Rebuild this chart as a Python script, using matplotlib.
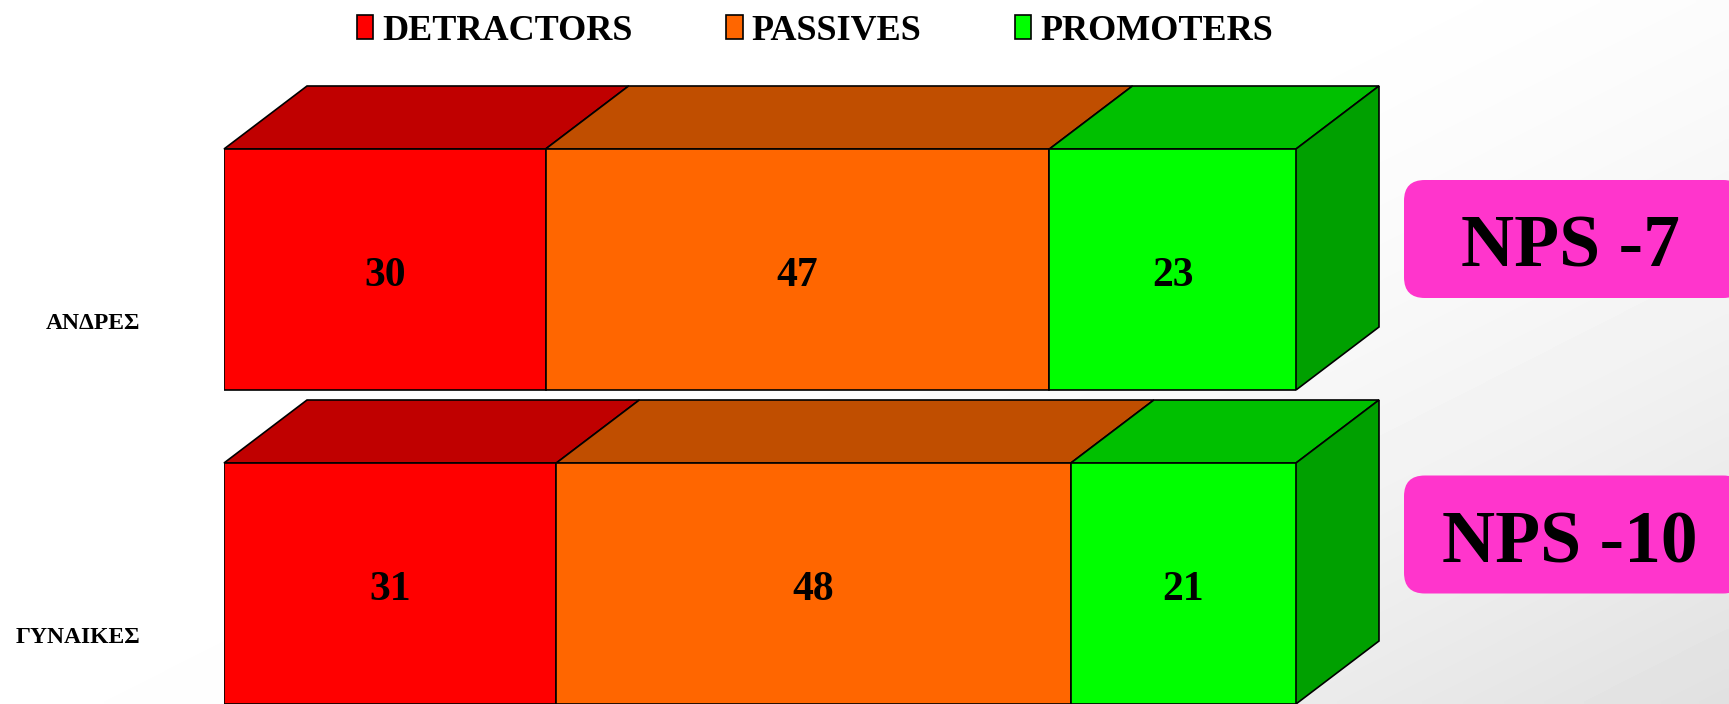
import matplotlib.pyplot as plt
import numpy as np
from matplotlib.patches import Polygon, Patch, FancyBboxPatch

# data
categories = ['ΑΝΔΡΕΣ', 'ΓΥΝΑΙΚΕΣ']
series = ['DETRACTORS', 'PASSIVES', 'PROMOTERS']
detractors = [30, 31]
passives = [47, 48]
promoters = [23, 21]

values = np.array([detractors, passives, promoters])
nps = np.array(promoters) - np.array(detractors)

front = ['#FF0000', '#FF6600', '#00FF00']
top = ['#C00000', '#C04E00', '#00C000']
side = '#00A000'

W, H = 1729, 704
fig = plt.figure(figsize=(W / 100, H / 100), dpi=100)
plt.rcParams['font.family'] = ['Liberation Serif', 'DejaVu Serif']

# soft grey gradient background
bg = fig.add_axes([0, 0, 1, 1], zorder=-5)
gx, gy = np.meshgrid(np.linspace(0, 1, 300), np.linspace(0, 1, 150))
g = np.clip((gx * 0.75 + gy * 0.6 - 0.55) / 0.8, 0, 1) ** 1.6
bg.imshow(1 - 0.12 * g, cmap='gray', vmin=0, vmax=1, aspect='auto',
          extent=[0, 1, 0, 1], interpolation='bilinear')
bg.axis('off')

# main axes: x in percent, y per category (inverted)
px_per_unit = 1072 / 100
row_px = 314
ax = fig.add_axes([224 / W, 0, 1072 / W, 1])
ax.set_xlim(0, 100)
ax.set_ylim((704 - 269.5) / row_px, -269.5 / row_px)
ax.axis('off')

bar_h = 241 / row_px
ddx = 83 / px_per_unit
ddy = 63 / row_px
ypos = np.arange(len(categories))

left = np.zeros(len(categories))
for s in range(len(series)):
    ax.barh(ypos, values[s], left=left, height=bar_h, color=front[s],
            edgecolor='black', linewidth=1.2, zorder=3)
    for i, y in enumerate(ypos):
        x0, x1 = left[i], left[i] + values[s][i]
        yt = y - bar_h / 2
        ax.add_patch(Polygon([(x0, yt), (x1, yt), (x1 + ddx, yt - ddy),
                              (x0 + ddx, yt - ddy)], closed=True,
                             facecolor=top[s], edgecolor='black',
                             linewidth=1.2, zorder=2, clip_on=False))
        ax.text((x0 + x1) / 2, y + 6 / row_px, str(values[s][i]), ha='center',
                va='center', fontsize=30, fontweight='bold', zorder=5)
    left += values[s]

for i, y in enumerate(ypos):
    yt, yb = y - bar_h / 2, y + bar_h / 2
    ax.add_patch(Polygon([(left[i], yt), (left[i] + ddx, yt - ddy),
                          (left[i] + ddx, yb - ddy), (left[i], yb)],
                         closed=True, facecolor=side, edgecolor='black',
                         linewidth=1.2, zorder=2, clip_on=False))
    ax.text(-84 / px_per_unit, y + 54 / row_px, categories[i], ha='right',
            va='center', fontsize=17, fontweight='bold')

# NPS boxes
box_y = [239, 534.5]
for i in range(len(categories)):
    cy = 1 - box_y[i] / H
    bh = 118 / H
    fig.patches.append(FancyBboxPatch((1404 / W, cy - bh / 2), 340 / W, bh,
                                      boxstyle='round,pad=0,rounding_size=0.012',
                                      mutation_aspect=W / H,
                                      transform=fig.transFigure,
                                      facecolor='#FF35CC', edgecolor='none'))
    fig.text(1570 / W, cy - 10 / H, f'NPS {nps[i]}', ha='center', va='center',
             fontsize=53, fontweight='bold')

handles = [Patch(facecolor=c, edgecolor='black', linewidth=1.2) for c in front]
fig.legend(handles, series, loc='center', bbox_to_anchor=(815 / W, 1 - 31 / H),
           ncol=3, frameon=False, prop={'size': 26, 'weight': 'bold'},
           handlelength=0.45, handleheight=0.65, handletextpad=0.25,
           columnspacing=2.6)

fig.savefig('out.png', dpi=100)
